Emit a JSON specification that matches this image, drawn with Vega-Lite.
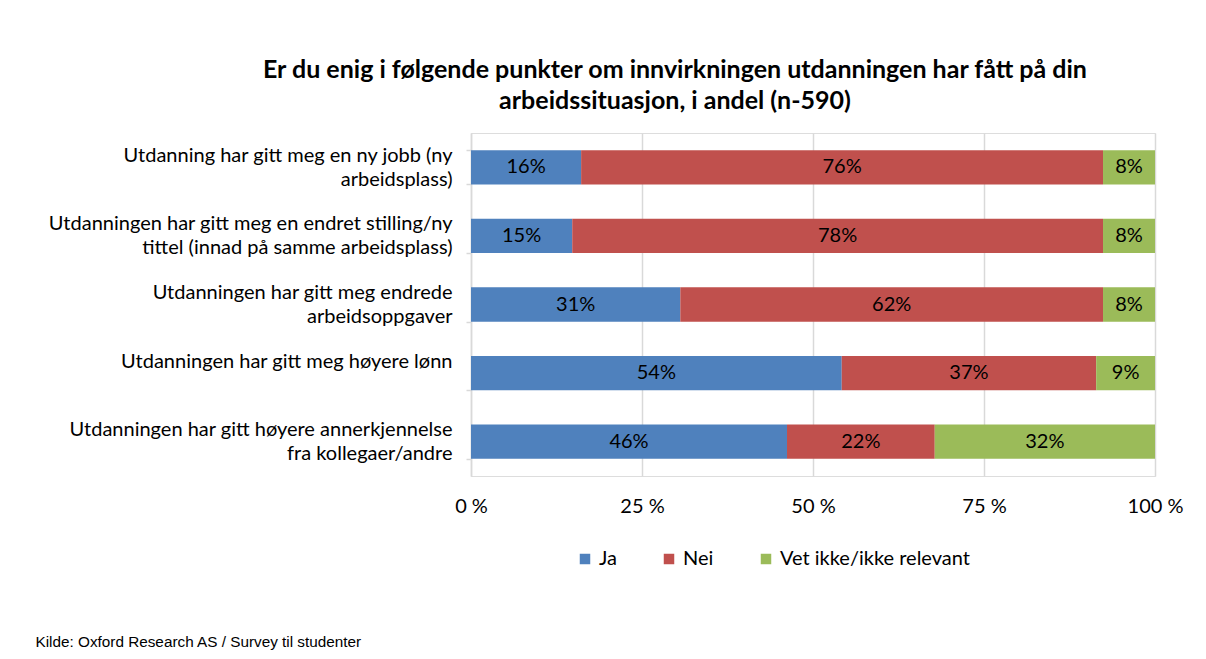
{
  "$schema": "https://vega.github.io/schema/vega-lite/v6.json",
  "width": 684,
  "height": 343,
  "autosize": {"type": "none"},
  "padding": {"left": 471, "top": 133, "right": 51, "bottom": 183},
  "background": "white",
  "title": {
    "text": ["Er du enig i følgende punkter om innvirkningen utdanningen har fått på din", "arbeidssituasjon, i andel (n-590)"],
    "font": "Lato",
    "fontSize": 25,
    "fontWeight": "bold",
    "color": "#000000",
    "anchor": "middle",
    "dx": -138,
    "offset": 9,
    "lineHeight": 31
  },
  "data": {
    "values": [
      {"q": "Utdanning har gitt meg en ny jobb (ny|arbeidsplass)", "resp": "Ja", "pct": 16.1},
      {"q": "Utdanning har gitt meg en ny jobb (ny|arbeidsplass)", "resp": "Nei", "pct": 76.3},
      {"q": "Utdanning har gitt meg en ny jobb (ny|arbeidsplass)", "resp": "Vet ikke/ikke relevant", "pct": 7.6},
      {"q": "Utdanningen har gitt meg en endret stilling/ny|tittel (innad på samme arbeidsplass)", "resp": "Ja", "pct": 14.8},
      {"q": "Utdanningen har gitt meg en endret stilling/ny|tittel (innad på samme arbeidsplass)", "resp": "Nei", "pct": 77.6},
      {"q": "Utdanningen har gitt meg en endret stilling/ny|tittel (innad på samme arbeidsplass)", "resp": "Vet ikke/ikke relevant", "pct": 7.6},
      {"q": "Utdanningen har gitt meg endrede|arbeidsoppgaver", "resp": "Ja", "pct": 30.6},
      {"q": "Utdanningen har gitt meg endrede|arbeidsoppgaver", "resp": "Nei", "pct": 61.8},
      {"q": "Utdanningen har gitt meg endrede|arbeidsoppgaver", "resp": "Vet ikke/ikke relevant", "pct": 7.6},
      {"q": "Utdanningen har gitt meg høyere lønn", "resp": "Ja", "pct": 54.2},
      {"q": "Utdanningen har gitt meg høyere lønn", "resp": "Nei", "pct": 37.2},
      {"q": "Utdanningen har gitt meg høyere lønn", "resp": "Vet ikke/ikke relevant", "pct": 8.6},
      {"q": "Utdanningen har gitt høyere annerkjennelse|fra kollegaer/andre", "resp": "Ja", "pct": 46.2},
      {"q": "Utdanningen har gitt høyere annerkjennelse|fra kollegaer/andre", "resp": "Nei", "pct": 21.6},
      {"q": "Utdanningen har gitt høyere annerkjennelse|fra kollegaer/andre", "resp": "Vet ikke/ikke relevant", "pct": 32.2}
    ]
  },
  "encoding": {
    "y": {
      "field": "q",
      "type": "nominal",
      "sort": null,
      "scale": {"paddingInner": 0.5, "paddingOuter": 0.25},
      "axis": {
        "title": null,
        "labelExpr": "split(datum.label, '|')",
        "labelFont": "Lato",
        "labelFontSize": 20,
        "labelColor": "#000000",
        "labelLineHeight": 24,
        "labelOffset": -12,
        "labelLimit": 600,
        "labelPadding": 14,
        "domainColor": "#d9d9d9",
        "domainWidth": 1.5,
        "tickColor": "#d9d9d9",
        "tickWidth": 1.5,
        "tickSize": 5,
        "tickBand": "extent"
      }
    },
    "x": {
      "field": "pct",
      "type": "quantitative",
      "stack": "zero",
      "scale": {"domain": [0, 100], "nice": false},
      "axis": {
        "values": [0, 25, 50, 75, 100],
        "labelExpr": "datum.value + ' %'",
        "labelFont": "Lato",
        "labelFontSize": 20,
        "labelColor": "#000000",
        "labelFlush": false,
        "labelPadding": 20,
        "domain": false,
        "ticks": false,
        "grid": true,
        "gridColor": "#d9d9d9",
        "gridWidth": 1.5,
        "title": "Kilde: Oxford Research AS / Survey til studenter",
        "titleFont": "Liberation Sans",
        "titleFontSize": 15.3,
        "titleFontWeight": "normal",
        "titleColor": "#000000",
        "titleAnchor": "start",
        "titleAlign": "left",
        "titleBaseline": "alphabetic",
        "titleX": -436,
        "titleY": 170
      }
    }
  },
  "layer": [
    {
      "mark": {"type": "bar"},
      "encoding": {
        "color": {
          "field": "resp",
          "type": "nominal",
          "scale": {"domain": ["Ja", "Nei", "Vet ikke/ikke relevant"], "range": ["#4F81BD", "#C0504D", "#9BBB59"]},
          "legend": {
            "title": null,
            "orient": "none",
            "legendX": 104,
            "legendY": 416,
            "direction": "horizontal",
            "symbolType": "square",
            "symbolSize": 110,
            "symbolStrokeWidth": 0,
            "labelFont": "Lato",
            "labelFontSize": 20,
            "labelColor": "#000000",
            "labelOffset": 4,
            "labelLimit": 400,
            "columnPadding": 42
          }
        },
        "order": {"field": "resp", "sort": "ascending"}
      }
    },
    {
      "transform": [{"calculate": "format(datum.pct, '.0f') + '%'", "as": "lbl"}],
      "mark": {"type": "text", "font": "Lato", "fontSize": 20, "color": "#000000"},
      "encoding": {
        "x": {"field": "pct", "type": "quantitative", "stack": "zero", "bandPosition": 0.5},
        "detail": {"field": "resp"},
        "order": {"field": "resp", "sort": "ascending"},
        "text": {"field": "lbl", "type": "nominal"}
      }
    }
  ]
}
